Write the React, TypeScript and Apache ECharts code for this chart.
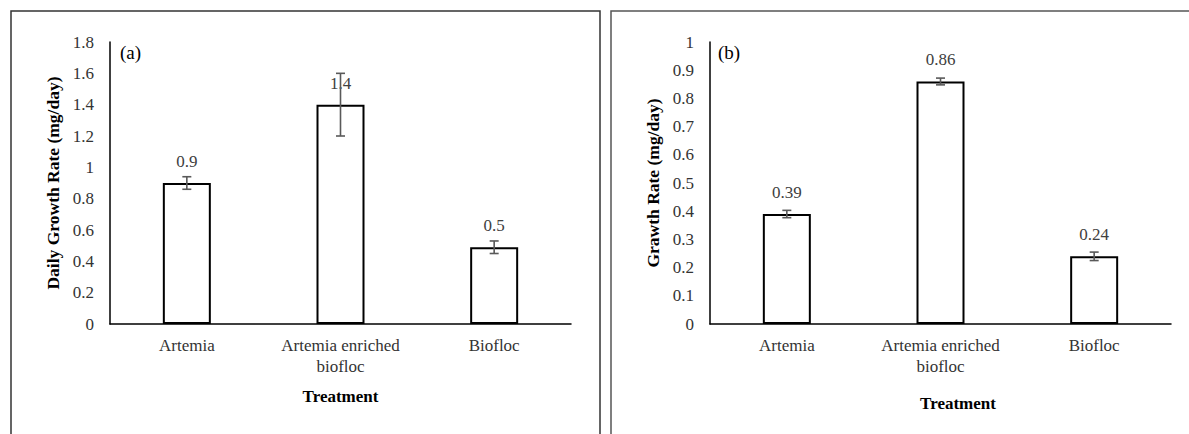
import React, { useEffect, useRef } from "react";
import * as echarts from "echarts";

const categories = ["Artemia", "Artemia enriched\nbiofloc", "Biofloc"];
const dailyGrowth = [0.9, 1.4, 0.49];
const dailyGrowthErr = [0.04, 0.2, 0.04];
const growthRate = [0.39, 0.86, 0.24];
const growthRateErr = [0.013, 0.012, 0.015];
const leftTicks = { min: 0, max: 1.8, interval: 0.2 };
const rightTicks = { min: 0, max: 1, interval: 0.1 };

const FONT = "'Liberation Serif', 'Times New Roman', serif";

function errData(vals: number[], errs: number[]) {
  return vals.map((v, i) => [i, v - errs[i], v + errs[i]]);
}

function errorRender(params: any, api: any) {
  const i = api.value(0);
  const lo = api.coord([i, api.value(1)]);
  const hi = api.coord([i, api.value(2)]);
  const hw = 4.5;
  const style = { stroke: "#595959", lineWidth: 1.6 };
  return {
    type: "group",
    children: [
      { type: "line", shape: { x1: lo[0], y1: lo[1], x2: hi[0], y2: hi[1] }, style },
      { type: "line", shape: { x1: hi[0] - hw, y1: hi[1], x2: hi[0] + hw, y2: hi[1] }, style },
      { type: "line", shape: { x1: lo[0] - hw, y1: lo[1], x2: lo[0] + hw, y2: lo[1] }, style },
    ],
  };
}

export default function App() {
  const ref = useRef<HTMLDivElement>(null);
  useEffect(() => {
    const chart = echarts.init(ref.current!, null, { renderer: "svg" });
    const axisLine = { show: true, lineStyle: { color: "#000", width: 1.5 } };
    const xAxisBase = (gridIndex: number) => ({
      type: "category",
      gridIndex,
      data: categories,
      axisLine,
      axisTick: { show: false },
      axisLabel: { interval: 0, fontFamily: FONT, fontSize: 17, color: "#333", lineHeight: 21, margin: 11 },
      name: "Treatment",
      nameLocation: "middle",
      nameTextStyle: { fontFamily: FONT, fontSize: 17, fontWeight: "bold", color: "#000" },
    });
    const yAxisBase = (gridIndex: number, t: any, name: string) => ({
      type: "value",
      gridIndex,
      min: t.min,
      max: t.max,
      interval: t.interval,
      axisLine,
      axisTick: { show: false },
      splitLine: { show: false },
      axisLabel: { fontFamily: FONT, fontSize: 17, color: "#333", margin: 16 },
      name,
      nameLocation: "middle",
      nameGap: 48,
      nameTextStyle: { fontFamily: FONT, fontSize: 17.5, fontWeight: "bold", color: "#000" },
    });
    const barSeries = (idx: number, data: number[], digits: number) => ({
      type: "bar",
      xAxisIndex: idx,
      yAxisIndex: idx,
      data,
      barWidth: 48,
      itemStyle: { color: "#fff", borderColor: "#000", borderWidth: 2 },
      label: {
        show: true,
        position: "top",
        distance: 13,
        fontFamily: FONT,
        fontSize: 17,
        color: "#404040",
        formatter: (p: any) => Number(p.value).toFixed(digits),
      },
      z: 2,
    });
    chart.setOption({
      animation: false,
      backgroundColor: "#fff",
      textStyle: { fontFamily: FONT },
      grid: [
        { left: 110, top: 42, width: 461, height: 282 },
        { left: 710, top: 42, width: 461, height: 282 },
      ],
      xAxis: [
        { ...xAxisBase(0), nameGap: 64 },
        {
          ...xAxisBase(1),
          nameGap: 71,
          nameTextStyle: { fontFamily: FONT, fontSize: 17, fontWeight: "bold", color: "#000", padding: [0, 0, 0, 35] },
        },
      ],
      yAxis: [
        yAxisBase(0, leftTicks, "Daily Growth Rate (mg/day)"),
        yAxisBase(1, rightTicks, "Grawth Rate (mg/day)"),
      ],
      series: [
        barSeries(0, dailyGrowth, 1),
        barSeries(1, growthRate, 2),
        {
          type: "custom",
          xAxisIndex: 0,
          yAxisIndex: 0,
          data: errData(dailyGrowth, dailyGrowthErr),
          renderItem: errorRender,
          z: 5,
        },
        {
          type: "custom",
          xAxisIndex: 1,
          yAxisIndex: 1,
          data: errData(growthRate, growthRateErr),
          renderItem: errorRender,
          z: 5,
        },
      ],
      graphic: [
        {
          type: "polyline",
          shape: { points: [[11, 440], [11, 11], [600, 11], [600, 440]] },
          style: { stroke: "#333", lineWidth: 1.5, fill: "none" },
          silent: true,
        },
        {
          type: "polyline",
          shape: { points: [[611, 440], [611, 11], [1195, 11]] },
          style: { stroke: "#555", lineWidth: 1.5, fill: "none" },
          silent: true,
        },
        {
          type: "text",
          x: 120,
          y: 52,
          style: { text: "(a)", fontFamily: FONT, fontSize: 19, fill: "#000", textVerticalAlign: "middle" },
        },
        {
          type: "text",
          x: 718,
          y: 52,
          style: { text: "(b)", fontFamily: FONT, fontSize: 19, fill: "#000", textVerticalAlign: "middle" },
        },
      ],
    });
    return () => chart.dispose();
  }, []);
  return (
    <div
      ref={ref}
      style={{ position: "fixed", left: 0, top: 0, width: 1189, height: 434, background: "#fff" }}
    />
  );
}
